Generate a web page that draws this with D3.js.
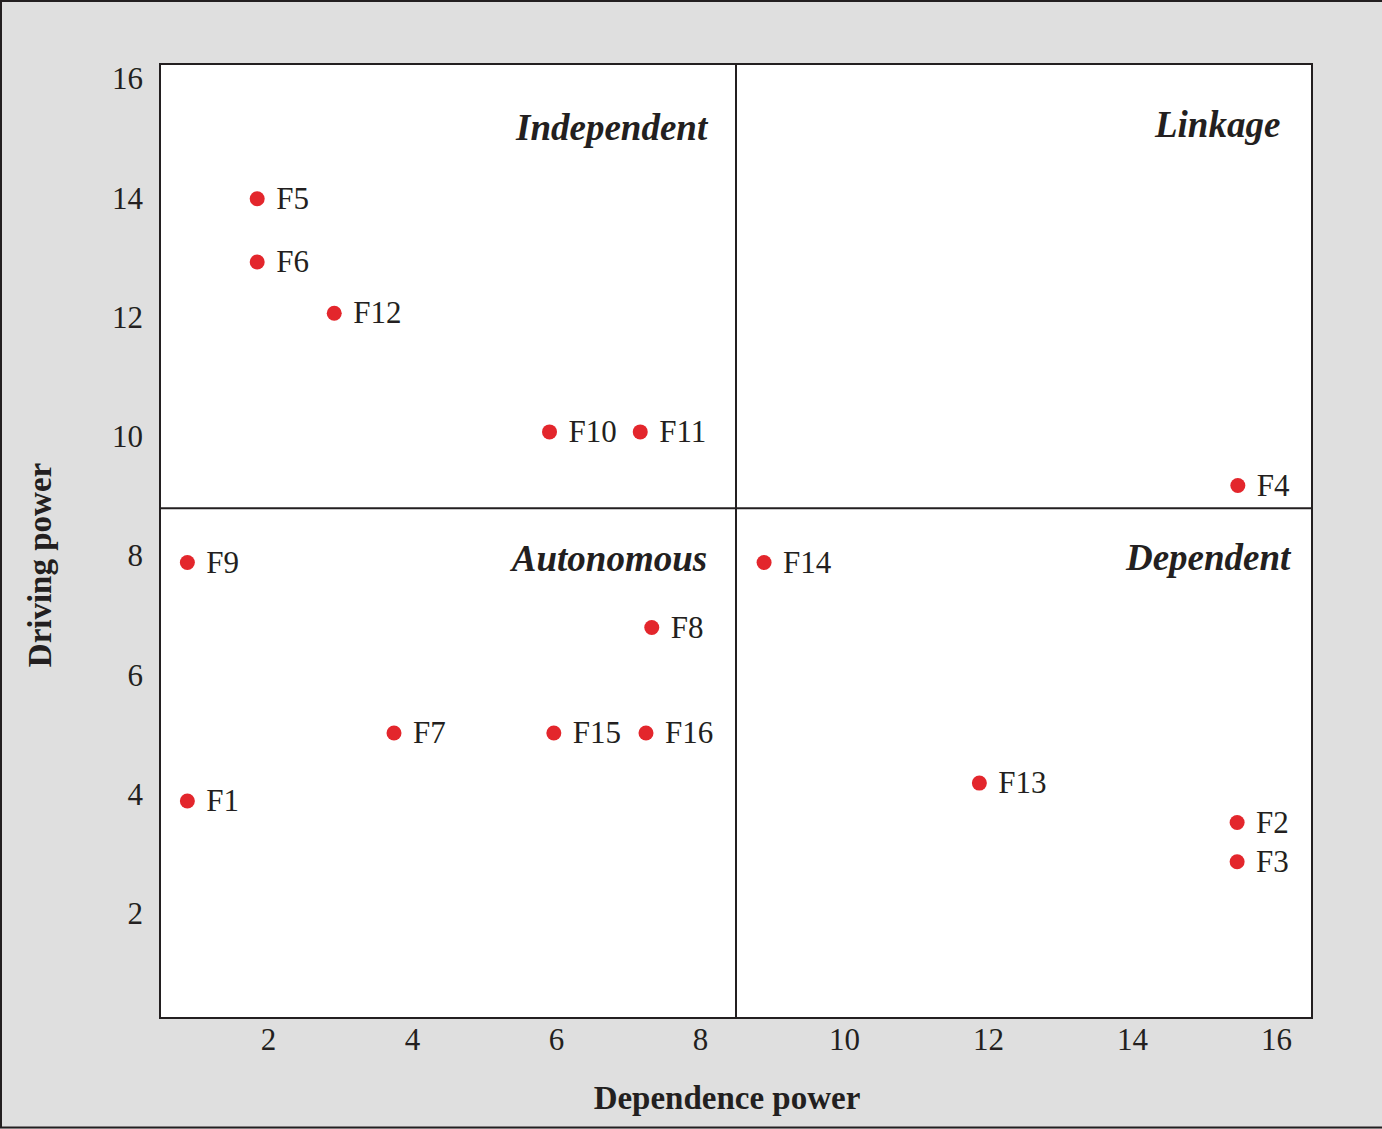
<!DOCTYPE html>
<html>
<head>
<meta charset="utf-8">
<script src="https://cdn.jsdelivr.net/npm/d3@7"></script>
<style>
  body { margin: 0; background: #dfdfdf; }
  svg { display: block; }
  text { font-family: "Liberation Serif", "Times New Roman", serif; fill: #231f20; }
</style>
</head>
<body>
<div id="chart"></div>
<script>
// factor labels, dependence power (x) and driving power (y)
const factors = ["F1", "F2", "F3", "F4", "F5", "F6", "F7", "F8", "F9", "F10", "F11", "F12", "F13", "F14", "F15", "F16"]
const dependence = [0.88, 15.46, 15.46, 15.47, 1.85, 1.85, 3.75, 7.33, 0.88, 5.91, 7.17, 2.92, 11.88, 8.89, 5.97, 7.25]
const driving = [3.89, 3.53, 2.87, 9.18, 13.99, 12.93, 5.03, 6.8, 7.89, 10.08, 10.08, 12.07, 4.19, 7.89, 5.03, 5.03]

const xTicks = [2, 4, 6, 8, 10, 12, 14, 16]
const yTicks = [2, 4, 6, 8, 10, 12, 14, 16]

// quadrant split and quadrant names (anchored at their right end)
const splitX = 8.5
const splitY = 8.8
const quadrants = ["Independent", "Linkage", "Autonomous", "Dependent"]
const quadX = [8.1, 16.06, 8.1, 16.2]
const quadY = [14.97, 15.03, 7.74, 7.77]

const W = 1382, H = 1129
const margin = { top: 64, right: 70, bottom: 111, left: 160 }

const svg = d3.select("#chart").append("svg")
  .attr("width", W)
  .attr("height", H)

// outer frame
svg.append("rect")
  .attr("x", 1).attr("y", 1)
  .attr("width", W + 10).attr("height", H - 2.5)
  .attr("fill", "#dfdfdf")
  .attr("stroke", "#231f20")
  .attr("stroke-width", 2)

const x = d3.scaleLinear().domain([0.5, 16.5]).range([margin.left, W - margin.right])
const y = d3.scaleLinear().domain([0.25, 16.25]).range([H - margin.bottom, margin.top])

// plot area
svg.append("rect")
  .attr("x", x.range()[0]).attr("y", y.range()[1])
  .attr("width", x.range()[1] - x.range()[0])
  .attr("height", y.range()[0] - y.range()[1])
  .attr("fill", "#fff")
  .attr("stroke", "#231f20")
  .attr("stroke-width", 2)

// quadrant dividers
svg.append("line")
  .attr("x1", x(splitX)).attr("x2", x(splitX))
  .attr("y1", y.range()[1]).attr("y2", y.range()[0])
  .attr("stroke", "#231f20").attr("stroke-width", 2)
svg.append("line")
  .attr("x1", x.range()[0]).attr("x2", x.range()[1])
  .attr("y1", y(splitY)).attr("y2", y(splitY))
  .attr("stroke", "#231f20").attr("stroke-width", 2)

// axes
const xAxis = svg.append("g")
  .attr("transform", "translate(0," + y.range()[0] + ")")
  .call(d3.axisBottom(x).tickValues(xTicks).tickSize(0).tickPadding(10))
const yAxis = svg.append("g")
  .attr("transform", "translate(" + x.range()[0] + ",0)")
  .call(d3.axisLeft(y).tickValues(yTicks).tickSize(0).tickPadding(17))

;[xAxis, yAxis].forEach((g) => {
  g.select(".domain").remove()
  g.selectAll("text")
    .attr("font-family", null)
    .attr("fill", "#231f20")
    .style("font-size", "31px")
  g.attr("font-family", null).attr("font-size", null)
})

// axis titles
svg.append("text")
  .attr("x", 727).attr("y", 1109)
  .attr("text-anchor", "middle")
  .style("font-size", "33px").style("font-weight", "bold")
  .text("Dependence power")

svg.append("text")
  .attr("transform", "translate(51,565) rotate(-90)")
  .attr("text-anchor", "middle")
  .style("font-size", "33px").style("font-weight", "bold")
  .text("Driving power")

// quadrant names
svg.selectAll(".quad")
  .data(quadrants)
  .enter().append("text")
    .attr("class", "quad")
    .attr("x", (d, i) => x(quadX[i]))
    .attr("y", (d, i) => y(quadY[i]))
    .attr("text-anchor", "end")
    .style("font-size", "37px")
    .style("font-weight", "bold")
    .style("font-style", "italic")
    .text((d) => d)

// points
const pts = svg.selectAll(".pt")
  .data(factors)
  .enter().append("g")
    .attr("class", "pt")
    .attr("transform", (d, i) => "translate(" + x(dependence[i]) + "," + y(driving[i]) + ")")

pts.append("circle")
  .attr("r", 7.5)
  .attr("fill", "#e3262c")

pts.append("text")
  .attr("x", 19)
  .attr("dy", "0.33em")
  .style("font-size", "31px")
  .text((d) => d)
</script>
</body>
</html>
